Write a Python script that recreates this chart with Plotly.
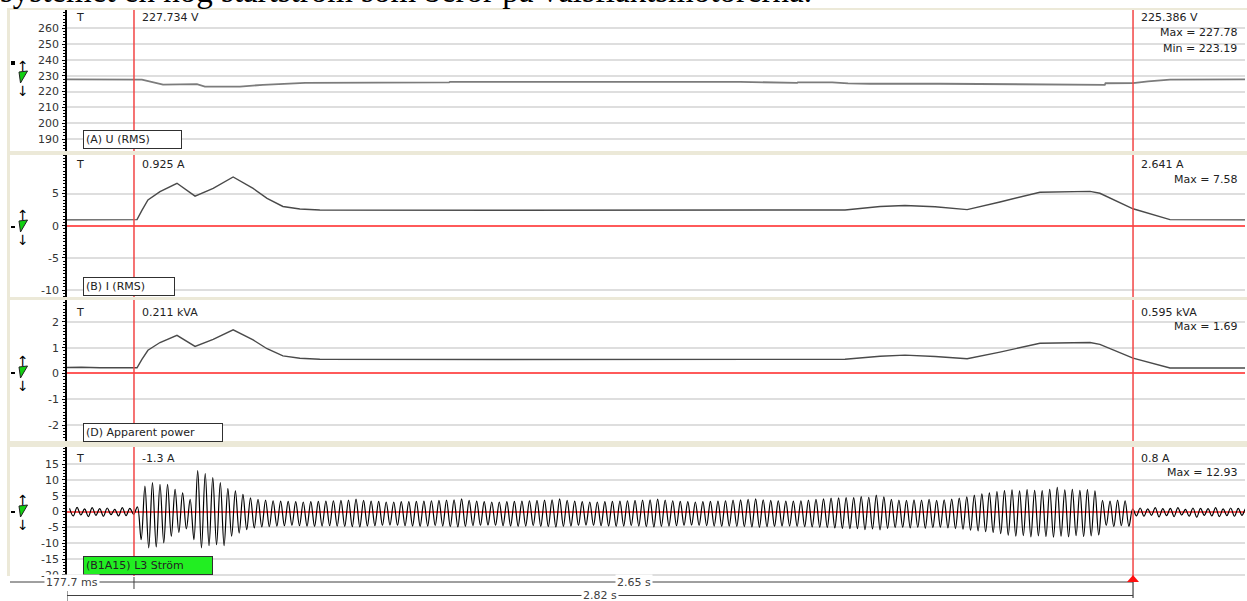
import plotly.graph_objects as go

# ---------------- time base (seconds, 0 = cursor A) ----------------
T_LEFT, T_RIGHT = -0.1777, 2.947
CURSOR_A, CURSOR_B = 0.0, 2.65

# (A) U (RMS) in volts
u_time = [-0.1777, 0.0, 0.021, 0.077, 0.114, 0.167, 0.188, 0.281, 0.342, 0.454,
          0.836, 0.838, 1.608, 1.655, 1.759, 1.761, 1.852, 1.894, 1.952, 2.138,
          2.297, 2.430, 2.575, 2.577, 2.650, 2.690, 2.748, 2.947]
u_rms = [227.73, 227.734, 227.6, 224.4, 224.4, 224.7, 223.19, 223.2, 224.3, 225.6,
         225.8, 226.2, 226.2, 225.9, 225.5, 225.9, 225.8, 225.2, 225.0, 225.0,
         224.6, 224.3, 224.3, 225.3, 225.386, 226.5, 227.6, 227.78]

# (B) I (RMS) in amperes
i_time = [-0.1777, -0.1, 0.0, 0.008, 0.021, 0.037, 0.069, 0.114, 0.162, 0.210,
          0.263, 0.316, 0.353, 0.395, 0.440, 0.493, 0.971, 1.501, 1.886, 1.979,
          2.045, 2.125, 2.210, 2.297, 2.403, 2.536, 2.562, 2.650, 2.748, 2.947]
i_rms = [0.92, 0.93, 0.925, 0.95, 2.4, 4.0, 5.3, 6.6, 4.6, 5.8,
         7.58, 5.8, 4.26, 3.0, 2.6, 2.45, 2.4, 2.4, 2.45, 3.0,
         3.15, 2.95, 2.5, 3.7, 5.2, 5.35, 5.05, 2.641, 0.95, 0.92]

# (D) Apparent power in kVA
s_time = [-0.1777, -0.14, -0.09, -0.04, 0.0, 0.008, 0.021, 0.037, 0.069, 0.114,
          0.162, 0.210, 0.263, 0.316, 0.353, 0.395, 0.440, 0.493, 0.971, 1.501,
          1.886, 1.979, 2.045, 2.125, 2.210, 2.297, 2.403, 2.536, 2.562, 2.650,
          2.748, 2.947]
s_kva = [0.23, 0.24, 0.22, 0.22, 0.211, 0.22, 0.55, 0.9, 1.2, 1.48,
         1.05, 1.32, 1.69, 1.3, 0.96, 0.68, 0.59, 0.55, 0.54, 0.54,
         0.55, 0.67, 0.71, 0.66, 0.57, 0.83, 1.17, 1.2, 1.13, 0.595,
         0.21, 0.21]

# (B1A15) L3 Ström: positive / negative peak of every mains cycle
CYCLE_START = -0.18
MAINS_HZ = 50
l3_pos_peaks = [
    1.0, 1.3, 0.8, 1.2, 0.9, 1.1, 0.7, 1.2, 1.0,
    1.5,
    8.0, 9.1, 8.6, 8.6, 7.0, 5.9, 3.8, 12.93, 12.0, 10.7, 9.1, 7.2, 6.5, 5.4, 4.3, 3.8,
    3.6, 3.4, 3.3, 3.2, 3.1, 3.0, 3.1, 3.2, 3.3, 3.4, 3.5, 3.6, 3.9,
    3.5, 3.3, 3.2, 3.0, 3.0, 3.1, 3.1, 3.2, 3.3, 3.4, 3.5, 3.6, 3.7,
    4.0, 3.5, 3.3, 3.1, 3.0, 3.0, 3.1, 3.2, 3.3, 3.4, 3.5, 3.6, 3.7,
    4.0, 3.5, 3.3, 3.1, 3.0, 3.0, 3.1, 3.2, 3.3, 3.4, 3.5, 3.6, 3.7,
    3.9, 3.6, 3.4, 3.2, 3.1, 3.0, 3.1, 3.2, 3.3, 3.4, 3.6, 3.7, 3.8,
    4.0, 3.7, 3.5, 3.4, 3.3, 3.3, 3.4, 3.6, 3.8, 4.0, 4.2, 4.3, 4.4,
    4.4, 4.7, 4.5, 5.2, 4.6,
    3.8, 3.6, 3.5, 3.7, 3.6, 3.8, 3.5, 3.7, 3.9, 4.2, 4.6,
    5.2, 5.6, 5.9, 6.3,
    6.6, 6.8, 6.5, 6.9, 6.7, 6.6, 7.0, 7.6, 6.8, 7.0, 6.7, 6.9, 6.5,
    3.5, 3.3, 3.6, 3.4, 0.8,
    1.1, 0.8, 1.2, 0.9, 1.0, 1.2, 0.7, 1.1, 1.0, 0.9, 1.2, 0.8, 1.1, 1.0, 0.9,
]
l3_neg_peaks = [
    -1.4, -1.1, -1.6, -1.2, -1.5, -1.0, -1.4, -1.3, -0.9,
    -8.9,
    -11.5, -11.2, -9.9, -7.8, -6.6, -5.5, -8.9, -11.5, -10.8, -10.5, -10.8, -7.8, -6.8, -5.7, -5.2, -4.9,
    -4.8, -4.6, -4.5, -4.4, -4.5, -4.6, -4.7, -4.6, -4.5, -4.6, -4.7, -4.8, -4.9,
    -4.6, -4.5, -4.4, -4.3, -4.4, -4.5, -4.6, -4.7, -4.6, -4.5, -4.6, -4.8, -4.9,
    -4.7, -4.5, -4.4, -4.3, -4.4, -4.5, -4.6, -4.7, -4.6, -4.5, -4.7, -4.8, -4.9,
    -4.7, -4.6, -4.4, -4.3, -4.4, -4.5, -4.6, -4.7, -4.6, -4.5, -4.6, -4.8, -4.9,
    -4.7, -4.6, -4.5, -4.4, -4.3, -4.4, -4.5, -4.6, -4.7, -4.6, -4.7, -4.8, -4.9,
    -5.0, -4.8, -4.7, -4.6, -4.6, -4.7, -4.8, -4.9, -5.0, -5.1, -5.2, -5.3, -5.4,
    -5.4, -5.7, -5.5, -5.8, -5.3,
    -5.1, -5.0, -5.2, -5.0, -5.3, -5.1, -5.0, -5.2, -5.4, -5.6, -5.9,
    -6.1, -6.4, -6.6, -7.0,
    -7.5, -7.8, -7.6, -8.0, -7.7, -7.9, -8.1, -7.8, -8.0, -7.6, -7.9, -7.7, -7.4,
    -4.4, -4.8, -4.5, -4.7, -1.4,
    -1.5, -1.2, -1.7, -1.3, -1.6, -1.1, -1.5, -1.8, -1.2, -1.4, -1.6, -1.3, -1.5, -1.2, -1.6,
]
assert len(l3_pos_peaks) == len(l3_neg_peaks)

# y tick values per panel
u_ticks = [190, 200, 210, 220, 230, 240, 250, 260]
i_ticks = [-10, -5, 0, 5]
s_ticks = [-2, -1, 0, 1, 2]
l3_ticks = [-20, -15, -10, -5, 0, 5, 10, 15]

# ---------------- page geometry (pixels) ----------------
W, H = 1247, 601
ML, MR, MT, MB = 67, 2, 10, 25
PW, PH = W - ML - MR, H - MT - MB
PANELS = [(10, 151), (155, 297), (300, 441), (447, 576)]  # top, bottom


def px(x):
    return (x - ML) / PW


def py(y):
    return 1 - (y - MT) / PH


FONT = "DejaVu Sans"
BEIGE = "#ECE9D8"
CURSOR_RED = "#F24545"
ZERO_RED = "#FF5A5A"
GRID = "#DEDEDE"

# interleave cycle peaks into a continuous trace
l3_t, l3_v = [], []
for k, (hi, lo) in enumerate(zip(l3_pos_peaks, l3_neg_peaks)):
    t0 = CYCLE_START + k / MAINS_HZ
    l3_t += [t0 + 0.45 / MAINS_HZ, t0 + 0.95 / MAINS_HZ]
    l3_v += [hi, lo]

fig = go.Figure()
fig.add_trace(go.Scatter(x=u_time, y=u_rms, mode="lines", yaxis="y",
                         line=dict(color="#7C7C7C", width=1.8)))
fig.add_trace(go.Scatter(x=i_time, y=i_rms, mode="lines", yaxis="y2",
                         line=dict(color="#4A4A4A", width=1.4)))
fig.add_trace(go.Scatter(x=s_time, y=s_kva, mode="lines", yaxis="y3",
                         line=dict(color="#4A4A4A", width=1.4)))
fig.add_trace(go.Scatter(x=l3_t, y=l3_v, mode="lines", yaxis="y4",
                         line=dict(color="#000000", width=1.2, shape="spline", smoothing=1.0)))


def yaxis(panel, rng, ticks, minor_dtick, zero):
    top, bot = PANELS[panel]
    return dict(
        domain=[py(bot), py(top)], range=rng, anchor="x",
        tickmode="array", tickvals=ticks, ticktext=[str(v) for v in ticks],
        ticks="outside", ticklen=3, tickcolor="black", tickwidth=1,
        ticklabelstandoff=1,
        showline=True, linecolor="black", linewidth=1.5,
        showgrid=True, gridcolor=GRID, gridwidth=1.6,
        zeroline=zero, zerolinecolor=ZERO_RED, zerolinewidth=1.6,
        tickfont=dict(family=FONT, size=11, color="#333333"),
        minor=dict(ticks="outside", ticklen=2, tickcolor="black", tick0=0,
                   dtick=minor_dtick, showgrid=False),
        fixedrange=True,
    )


layout = dict(
    width=W, height=H, autosize=False,
    margin=dict(l=ML, r=MR, t=MT, b=MB, pad=0),
    paper_bgcolor="white", plot_bgcolor="white",
    showlegend=False,
    xaxis=dict(domain=[0, 1], range=[T_LEFT, T_RIGHT], anchor="y4",
               showgrid=False, zeroline=False, showline=False,
               showticklabels=False, ticks="", fixedrange=True),
    yaxis=yaxis(0, [182.4, 271.7], u_ticks, 2, False),
    yaxis2=yaxis(1, [-11.08, 11.0], i_ticks, 0.5, True),
    yaxis3=yaxis(2, [-2.62, 2.85], s_ticks, 0.125, True),
    yaxis4=yaxis(3, [-20.37, 20.37], l3_ticks, 1, True),
)
fig.update_layout(**layout)

shapes = []
# beige instrument frame with white panels
shapes.append(dict(type="rect", xref="paper", yref="paper", layer="below",
                   x0=px(7), x1=px(W), y0=py(576), y1=py(8),
                   fillcolor=BEIGE, line=dict(width=0)))
for top, bot in PANELS:
    shapes.append(dict(type="rect", xref="paper", yref="paper", layer="below",
                       x0=px(10), x1=px(W), y0=py(bot), y1=py(top),
                       fillcolor="white", line=dict(width=0)))

# cursors A and B through every panel
for i, (top, bot) in enumerate(PANELS):
    for c in (CURSOR_A, CURSOR_B):
        lower = bot + 2 if (i == 3 and c == CURSOR_B) else bot
        shapes.append(dict(type="line", xref="x", yref="paper", layer="above",
                           x0=c, x1=c, y0=py(lower), y1=py(top),
                           line=dict(color=CURSOR_RED, width=1.5)))

# channel handles on the left (marker, arrows, green triangle)
handle_centres = [78, 227, 373, 512]
for i, yc in enumerate(handle_centres):
    if i == 0:
        shapes.append(dict(type="rect", xref="paper", yref="paper",
                           x0=px(11), x1=px(15), y0=py(yc - 13), y1=py(yc - 17),
                           fillcolor="black", line=dict(width=0)))
    else:
        shapes.append(dict(type="rect", xref="paper", yref="paper",
                           x0=px(11), x1=px(15), y0=py(yc + 1), y1=py(yc - 1),
                           fillcolor="black", line=dict(width=0)))
    path = "M {a},{b} L {c},{d} L {e},{f} Z".format(
        a=px(19), b=py(yc - 6), c=px(27.5), d=py(yc - 7), e=px(20.5), f=py(yc + 5))
    shapes.append(dict(type="path", xref="paper", yref="paper", path=path,
                       fillcolor="#12D012", line=dict(color="#222222", width=1)))

# time ruler underneath
RULER = "#404040"
shapes += [
    dict(type="line", xref="paper", yref="paper", x0=px(10), x1=px(134),
         y0=py(582), y1=py(582), line=dict(color=RULER, width=1)),
    dict(type="line", xref="x", yref="paper", x0=CURSOR_A, x1=CURSOR_A,
         y0=py(577), y1=py(589), line=dict(color=RULER, width=1)),
    dict(type="line", xref="x", yref="paper", x0=CURSOR_A, x1=CURSOR_B,
         y0=py(582), y1=py(582), line=dict(color=RULER, width=1)),
    dict(type="line", xref="x", yref="paper", x0=T_LEFT, x1=CURSOR_B,
         y0=py(595.5), y1=py(595.5), line=dict(color=RULER, width=1)),
    dict(type="line", xref="x", yref="paper", x0=T_LEFT, x1=T_LEFT,
         y0=py(601), y1=py(591), line=dict(color=RULER, width=1)),
    dict(type="line", xref="x", yref="paper", x0=CURSOR_B, x1=CURSOR_B,
         y0=py(598), y1=py(580), line=dict(color=RULER, width=1.2)),
    dict(type="path", xref="paper", yref="paper",
         path="M {a},{b} L {c},{d} L {e},{f} Z".format(
             a=px(1127), b=py(582), c=px(1139), d=py(582), e=px(1133), f=py(575)),
         fillcolor="#FF1010", line=dict(width=0)),
]
fig.update_layout(shapes=shapes)


def label(x, y, s, anchor="left", size=11, color="#222222", **kw):
    return dict(xref="paper", yref="paper", x=px(x), y=py(y), text=s,
                showarrow=False, xanchor=anchor, yanchor="middle",
                font=dict(family=FONT, size=size, color=color), **kw)


def value_at(times, values, t):
    return values[times.index(t)]


ann = []
# caption line of the surrounding document, running off the top edge
ann.append(dict(xref="paper", yref="paper", x=px(-2), y=py(-9), xanchor="left",
                yanchor="middle", showarrow=False,
                text="systemet en hög startström som beror på valsfläktsmotorerna.",
                font=dict(family="Liberation Serif", size=33, color="black")))

readouts = [
    (f"{value_at(u_time, u_rms, CURSOR_A):.3f} V", f"{value_at(u_time, u_rms, CURSOR_B):.3f} V",
     [f"Max = {max(u_rms):.2f}", f"Min = {min(u_rms):.2f}"]),
    (f"{value_at(i_time, i_rms, CURSOR_A):.3f} A", f"{value_at(i_time, i_rms, CURSOR_B):.3f} A",
     [f"Max = {max(i_rms):.2f}"]),
    (f"{value_at(s_time, s_kva, CURSOR_A):.3f} kVA", f"{value_at(s_time, s_kva, CURSOR_B):.3f} kVA",
     [f"Max = {max(s_kva):.2f}"]),
    ("-1.3 A", "0.8 A", [f"Max = {max(l3_pos_peaks):.2f}"]),
]
text_rows = [18, 165, 312, 458]
for (left_txt, right_txt, stats), yr in zip(readouts, text_rows):
    ann.append(label(74, yr, "T"))
    ann.append(label(140, yr, left_txt))
    ann.append(label(1139, yr, right_txt))
    for j, s in enumerate(stats):
        ann.append(label(1239, yr + 14.5 + 16 * j, s, anchor="right"))

# channel name boxes
boxes = [
    ("(A) U (RMS)", 139.5, 101, "white"),
    ("(B) I (RMS)", 287, 94, "white"),
    ("(D) Apparent power", 432.5, 142, "white"),
    ("(B1A15) L3 Ström", 565, 132, "#22EE22"),
]
for s, yc, w, fill in boxes:
    ann.append(label(83, yc, s, width=w - 8, align="left", bgcolor=fill,
                     bordercolor="#303030", borderwidth=1, borderpad=2, height=13))

# arrows on the channel handles
for yc in handle_centres:
    ann.append(label(23, yc - 12, "↑", anchor="center", size=14, color="black"))
    ann.append(label(23, yc + 13, "↓", anchor="center", size=14, color="black"))

# ruler captions
ann.append(label(72, 582, "177.7 ms", anchor="center", color="#404040", bgcolor="white"))
ann.append(label(633.5, 582, "2.65 s", anchor="center", color="#404040", bgcolor="white"))
ann.append(label(600, 595.5, "2.82 s", anchor="center", color="#404040", bgcolor="white"))

fig.update_layout(annotations=ann)
fig.write_html("out.html", config={"displayModeBar": False})
